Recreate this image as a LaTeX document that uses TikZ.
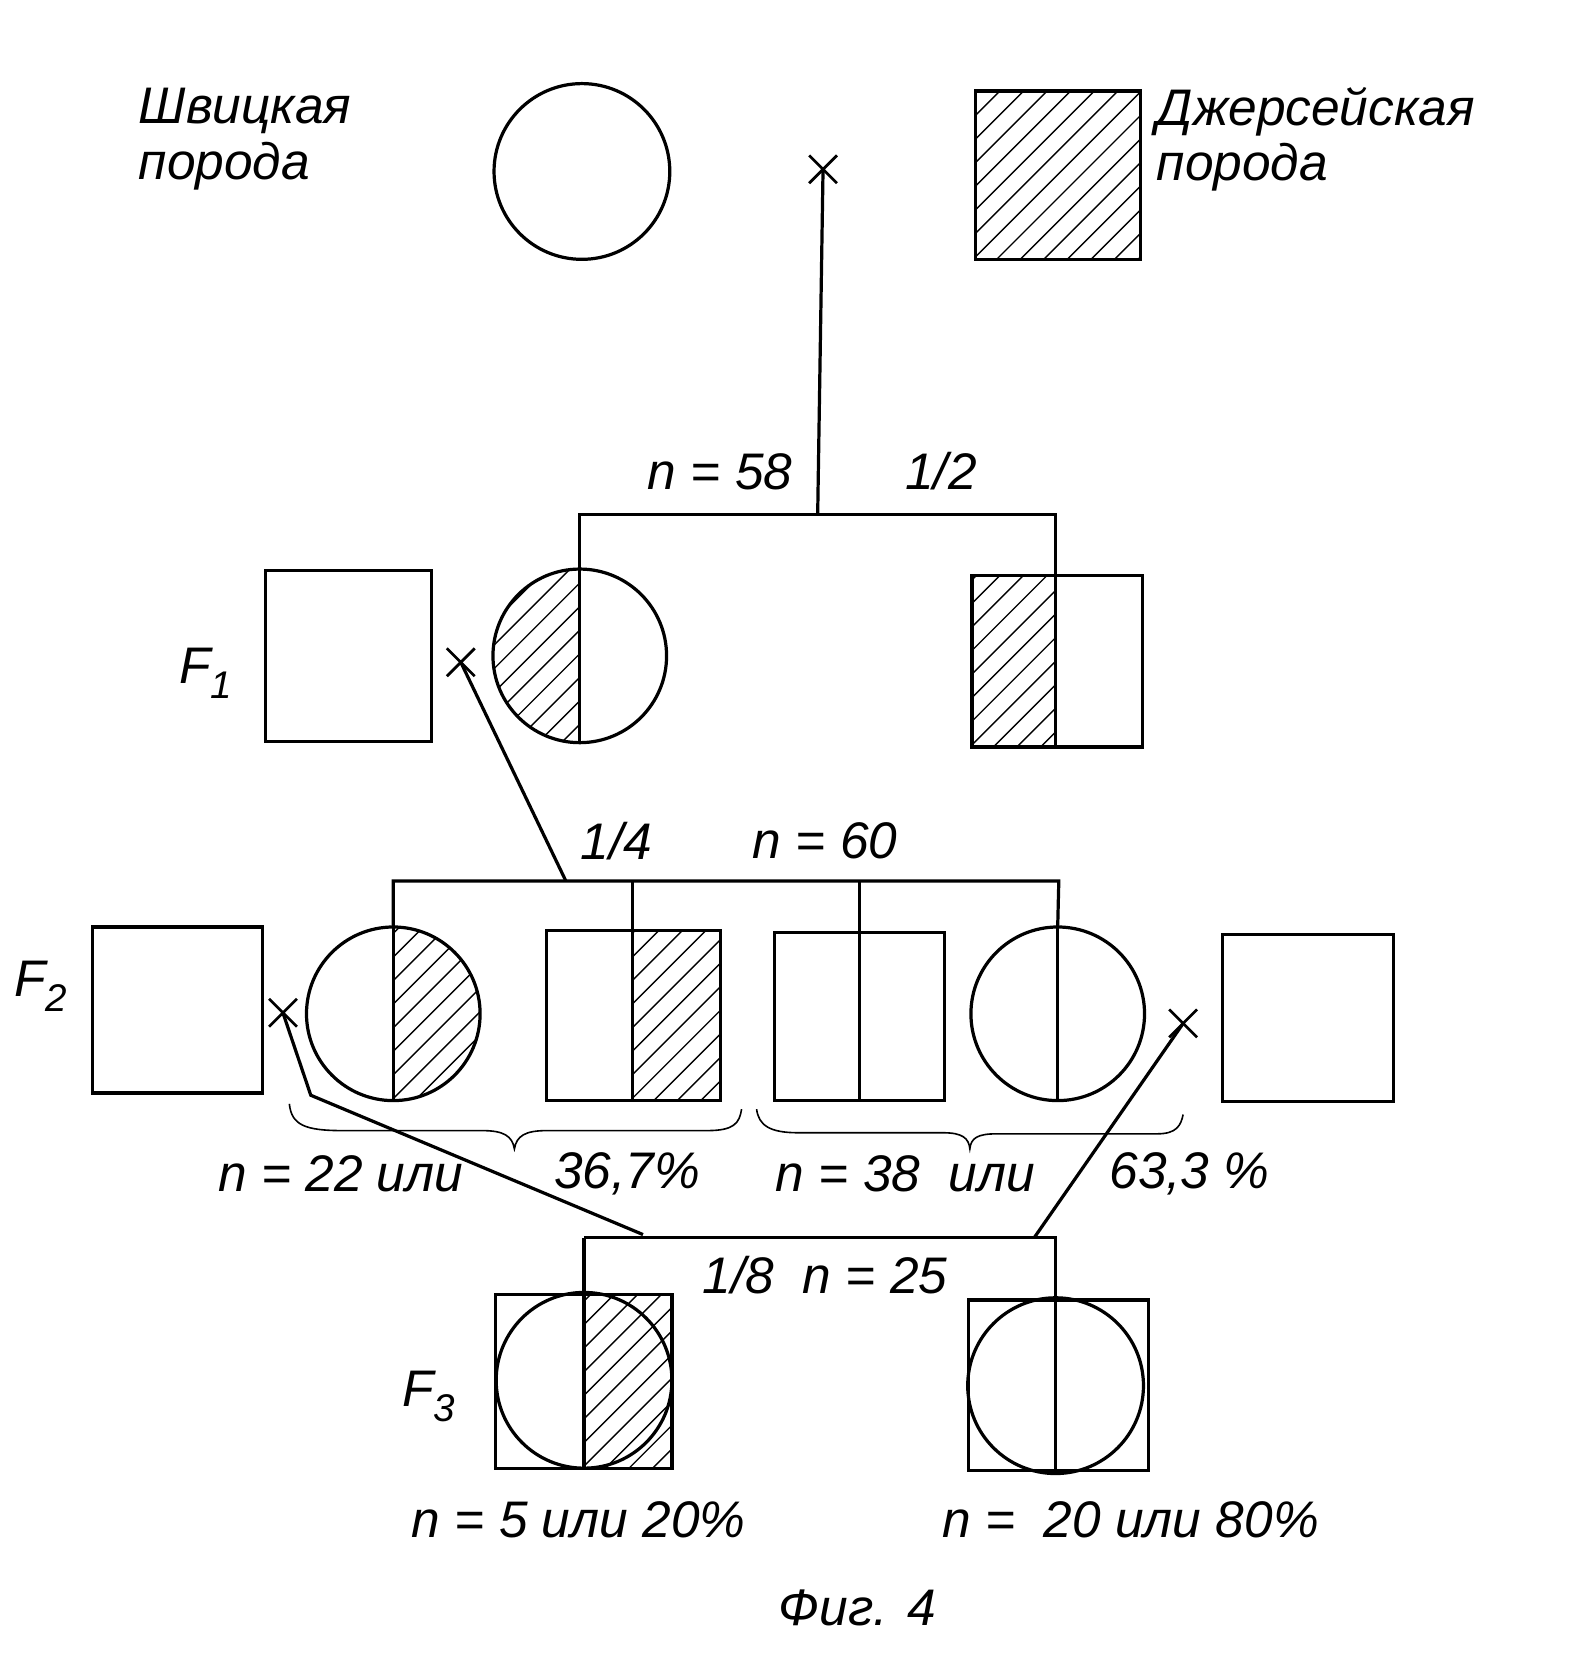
\documentclass[tikz,border=0pt]{standalone}
\usepackage{fontspec}
\setmainfont{Liberation Sans}
\begin{document}
\begin{tikzpicture}[x=1pt,y=-1pt,line width=3pt,
  lbl/.style={font=\fontsize{48}{52}\selectfont\itshape,inner sep=0pt},
  thin/.style={line width=1.3pt}]
\useasboundingbox (0,0) rectangle (1470,1563);
\newcommand{\hatchbox}[4]{%
  \foreach \k in {-200,-178,...,400}{\draw[thin] (#1+\k-10,#4+10) -- (#1+\k+#4-#2+10,#2-10);}}
\newcommand{\crossat}[1]{\draw[line width=2.5pt] (#1) ++(-13,-13) -- ++(26,26) (#1) ++(13,-13) -- ++(-26,26);}
\newcommand{\Fsub}[1]{F\raisebox{-14pt}{\fontsize{36}{40}\selectfont #1}}
% generation 0
\node[circle,draw,minimum size=164pt,inner sep=0pt] (p1) at (543,160) {};
\begin{scope}\clip (910,85) rectangle (1064,242);\hatchbox{910}{85}{1064}{242}\end{scope}
\node[draw,minimum width=154pt,minimum height=157pt,inner sep=0pt] (p2) at (987,163.5) {};
\node[lbl,align=left,anchor=west] (t1) at (128,130) {Швицкая\\ порода};
\node[lbl,align=left,anchor=west] (t2) at (1078,130) {Джерсейская\\ порода};
\coordinate (x0) at (768,158); \crossat{x0}
\coordinate (j0) at (763,480);
\draw (x0) -- (j0);
% F1
\node[draw,minimum width=155pt,minimum height=160pt,inner sep=0pt] (f1a) at (325.5,612) {};
\begin{scope}\clip (541,612) circle (81);\clip (400,520) rectangle (541,700);\hatchbox{460}{531}{541}{693}\end{scope}
\node[circle,draw,minimum size=162pt,inner sep=0pt] (f1c) at (541,612) {};
\begin{scope}\clip (907,537) rectangle (985,697);\hatchbox{907}{537}{985}{697}\end{scope}
\node[draw,minimum width=159pt,minimum height=160pt,inner sep=0pt] (f1s) at (986.5,617) {};
\draw (f1c.north) -- (f1c.south);
\draw (985,537) -- (985,697);
\draw (f1c.north) |- (j0) -| (985,537);
\node[lbl] (lf1) at (192,628) {\Fsub{1}};
\node[lbl] (l58) at (672,440) {n = 58};
\node[lbl] (l12) at (878,440) {1/2};
\coordinate (x1) at (430,618); \crossat{x1}
\coordinate (j1) at (528,822);
\draw (x1) -- (j1);
% F2
\node[draw,minimum width=159pt,minimum height=155pt,inner sep=0pt] (f2a) at (165.5,942.5) {};
\begin{scope}\clip (367,946) circle (81);\clip (367,860) rectangle (460,1030);\hatchbox{367}{865}{448}{1027}\end{scope}
\node[circle,draw,minimum size=162pt,inner sep=0pt] (f2c1) at (367,946) {};
\draw (f2c1.north) -- (f2c1.south);
\begin{scope}\clip (590,868) rectangle (672,1027);\hatchbox{590}{868}{672}{1027}\end{scope}
\node[draw,minimum width=162pt,minimum height=159pt,inner sep=0pt] (f2s2) at (591,947.5) {};
\draw (590,868) -- (590,1027);
\node[draw,minimum width=158pt,minimum height=157pt,inner sep=0pt] (f2s3) at (802,948.5) {};
\draw (f2s3.north) -- (f2s3.south);
\node[circle,draw,minimum size=162pt,inner sep=0pt] (f2c4) at (987,946) {};
\draw (f2c4.north) -- (f2c4.south);
\node[draw,minimum width=159pt,minimum height=156pt,inner sep=0pt] (f2e) at (1220.5,950) {};
\draw (f2c1.north) |- (988,822) -- (f2c4.north);
\draw (590,822) -- (590,868);
\draw (f2s3.north) -- (802,822);
\node[lbl] (lf2) at (38,920) {\Fsub{2}};
\node[lbl] (l14) at (575,785) {1/4};
\node[lbl] (l60) at (770,785) {n = 60};
% braces
\draw[line width=1.5pt] (270,1030) .. controls (272,1050) and (285,1055) .. (320,1055) -- (450,1055) .. controls (470,1055) and (478,1060) .. (480,1072) .. controls (482,1060) and (490,1055) .. (510,1055) -- (660,1055) .. controls (685,1055) and (690,1048) .. (692,1035);
\draw[line width=1.5pt] (706,1035) .. controls (708,1050) and (718,1057) .. (745,1057) -- (880,1057) .. controls (898,1057) and (904,1062) .. (905,1072) .. controls (906,1062) and (912,1058) .. (930,1058) -- (1080,1058) .. controls (1098,1058) and (1102,1050) .. (1104,1040);
\node[lbl] (l22) at (318,1095) {n = 22 или};
\node[lbl] (l367) at (585,1095) {36,7\%};
\node[lbl] (l38) at (845,1095) {n = 38 \ или};
\node[lbl] (l633) at (1110,1095) {63,3 \%};
\coordinate (x2) at (264,945); \crossat{x2}
\coordinate (x3) at (1104,955); \crossat{x3}
\coordinate (j2) at (600,1152);
\coordinate (j3) at (965,1155);
\draw (x2) -- (290,1022) -- (j2);
\draw (x3) -- (j3);
% F3
\begin{scope}\clip (545,1208) rectangle (627,1370);\hatchbox{545}{1208}{627}{1370}\end{scope}
\node[draw,minimum width=165pt,minimum height=162pt,inner sep=0pt] (f3a) at (544.5,1289) {};
\node[circle,draw,minimum size=164pt,inner sep=0pt] (f3ac) at (545,1288) {};
\node[draw,minimum width=168pt,minimum height=159pt,inner sep=0pt] (f3b) at (988,1292.5) {};
\node[circle,draw,minimum size=164pt,inner sep=0pt] (f3bc) at (985,1293) {};
\draw (545,1155) -- (545,1370);
\draw (545,1155) -- (985,1155) -- (985,1372);
\node[lbl] (lf3) at (400,1303) {\Fsub{3}};
\node[lbl] (l18) at (770,1190) {1/8 \ n = 25};
\node[lbl] (l5) at (540,1418) {n = 5 или 20\%};
\node[lbl] (l20) at (1055,1418) {n = \ 20 или 80\%};
\node[lbl] (fig) at (800,1500) {Фиг. 4};
\end{tikzpicture}
\end{document}
